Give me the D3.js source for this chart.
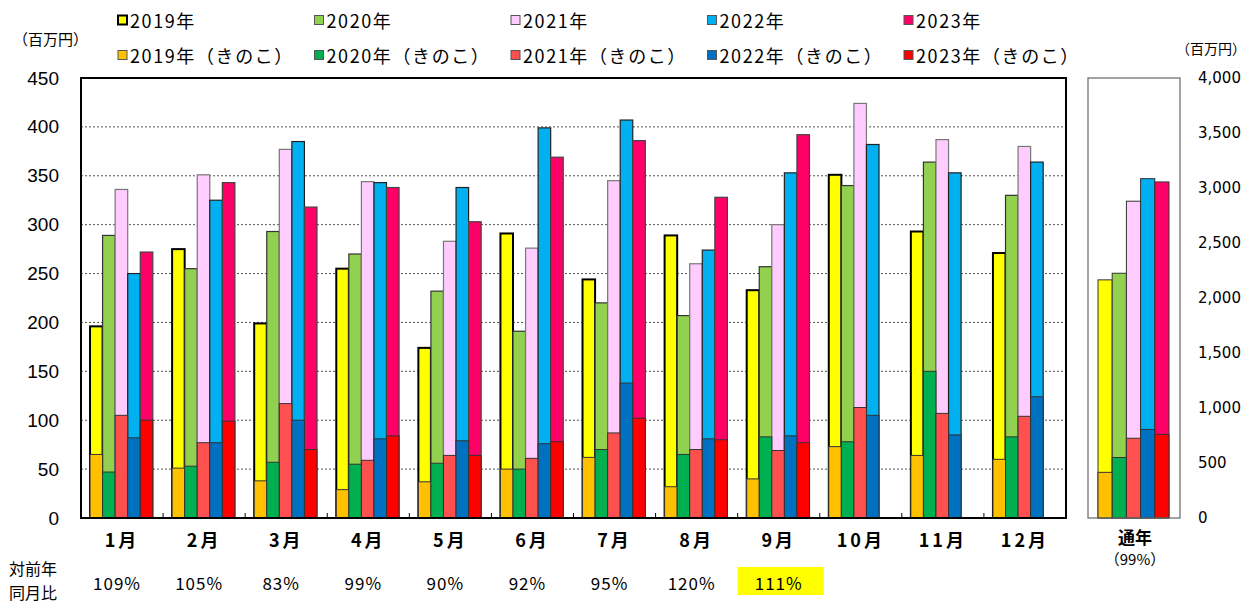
<!DOCTYPE html>
<html>
<head>
<meta charset="utf-8">
<script src="https://cdn.jsdelivr.net/npm/d3@7/dist/d3.min.js"></script>
<style>
  html, body { margin: 0; padding: 0; background: #fff; }
  svg { display: block; }
  text { fill: #000; }
</style>
</head>
<body>
<svg id="chart" width="1252" height="604"></svg>
<script>
// 月別 販売額(百万円)
const months = ["1月","2月","3月","4月","5月","6月","7月","8月","9月","10月","11月","12月"];
const years = ["2019","2020","2021","2022","2023"];

// 全体
const total2019 = [196, 275, 199, 255, 174, 291, 244, 289, 233, 351, 293, 271];
const total2020 = [289, 255, 293, 270, 232, 191, 220, 207, 257, 340, 364, 330];
const total2021 = [336, 351, 377, 344, 283, 276, 345, 260, 300, 424, 387, 380];
const total2022 = [250, 325, 385, 343, 338, 399, 407, 274, 353, 382, 353, 364];
const total2023 = [272, 343, 318, 338, 303, 369, 386, 328, 392, null, null, null];

// うち きのこ
const kinoko2019 = [65, 51, 38, 29, 37, 50, 62, 32, 40, 73, 64, 60];
const kinoko2020 = [47, 53, 57, 55, 56, 50, 70, 65, 83, 78, 150, 83];
const kinoko2021 = [105, 77, 117, 59, 64, 61, 87, 70, 69, 113, 107, 104];
const kinoko2022 = [82, 77, 100, 81, 79, 76, 138, 81, 84, 105, 85, 124];
const kinoko2023 = [100, 99, 70, 84, 64, 78, 102, 80, 77, null, null, null];

// 通年(1〜9月累計)
const annualTotal = [2165, 2225, 2880, 3085, 3055];
const annualKinoko = [415, 550, 725, 805, 760];
const annualRatio = "99%";

// 対前年同月比
const yoyRatio = ["109%","105%","83%","99%","90%","92%","95%","120%","111%"];
const highlightMonth = "9月";

const leftTicks = [0, 50, 100, 150, 200, 250, 300, 350, 400, 450];
const rightTicks = [0, 500, 1000, 1500, 2000, 2500, 3000, 3500, 4000];

const totals = [total2019, total2020, total2021, total2022, total2023];
const kinokos = [kinoko2019, kinoko2020, kinoko2021, kinoko2022, kinoko2023];

const totalColor = ["#FFFF00", "#92D050", "#FFCCFF", "#00B0F0", "#FF0066"];
const kinokoColor = ["#FFC000", "#00B050", "#FF5050", "#0070C0", "#FF0000"];
const totalStroke = ["#000", "#333", "#777", "#222", "#444"];

const jp = "'Noto Sans CJK JP', 'Noto Sans', sans-serif";

const svg = d3.select("#chart");

// ---- main plot ----
const plot = { left: 81, right: 1066, top: 78, bottom: 518 };
const x = d3.scaleBand().domain(months).range([plot.left, plot.right]);
const xs = d3.scaleBand().domain(years).range([x.bandwidth() * 0.11, x.bandwidth() * 0.875]);
const y = d3.scaleLinear().domain([0, 450]).range([plot.bottom, plot.top]);

// grid
svg.append("g")
  .selectAll("line")
  .data(leftTicks.filter(t => t > 0 && t < 450))
  .join("line")
  .attr("x1", plot.left).attr("x2", plot.right)
  .attr("y1", d => y(d)).attr("y2", d => y(d))
  .attr("stroke", "#555").attr("stroke-width", 1)
  .attr("stroke-dasharray", "2,2");

// bars
const rows = [];
months.forEach((m, i) => {
  years.forEach((yr, j) => {
    rows.push({ m, yr, j, total: totals[j][i], kin: kinokos[j][i] });
  });
});
const valid = rows.filter(r => r.total != null);

const barG = svg.append("g");
barG.selectAll("rect.total")
  .data(valid)
  .join("rect")
  .attr("class", "total")
  .attr("x", d => x(d.m) + xs(d.yr))
  .attr("width", xs.bandwidth())
  .attr("y", d => y(d.total))
  .attr("height", d => y(0) - y(d.total))
  .attr("fill", d => totalColor[d.j])
  .attr("stroke", d => totalStroke[d.j])
  .attr("stroke-width", d => d.j === 0 ? 2 : 1.2);

barG.selectAll("rect.kin")
  .data(valid)
  .join("rect")
  .attr("class", "kin")
  .attr("x", d => x(d.m) + xs(d.yr))
  .attr("width", xs.bandwidth())
  .attr("y", d => y(d.kin))
  .attr("height", d => y(0) - y(d.kin))
  .attr("fill", d => kinokoColor[d.j])
  .attr("stroke", "#333")
  .attr("stroke-width", 1);

// frame
svg.append("rect")
  .attr("x", plot.left).attr("y", plot.top)
  .attr("width", plot.right - plot.left).attr("height", plot.bottom - plot.top)
  .attr("fill", "none").attr("stroke", "#000").attr("stroke-width", 2);

// category ticks between months
svg.append("g")
  .selectAll("line")
  .data(months.slice(1))
  .join("line")
  .attr("x1", d => x(d)).attr("x2", d => x(d))
  .attr("y1", plot.bottom).attr("y2", plot.bottom - 5)
  .attr("stroke", "#000").attr("stroke-width", 1);

// left axis
const yAxis = d3.axisLeft(y).tickValues(leftTicks).tickSize(0).tickPadding(22);
const yAxG = svg.append("g").attr("transform", `translate(${plot.left},0)`).call(yAxis);
yAxG.select(".domain").remove();
yAxG.selectAll("text")
  .attr("font-family", "'Liberation Sans', Arial, sans-serif")
  .attr("font-size", 19).attr("fill", "#000");

svg.append("text")
  .attr("x", 13).attr("y", 38).attr("dominant-baseline", "central")
  .attr("font-family", jp).attr("font-size", 15).attr("fill", "#333")
  .text("（百万円）");

// month labels
const xAxis = d3.axisBottom(x).tickSize(0).tickPadding(16);
const xAxG = svg.append("g").attr("transform", `translate(0,${plot.bottom})`).call(xAxis);
xAxG.select(".domain").remove();
xAxG.selectAll("text")
  .attr("font-family", jp).attr("font-size", 18).attr("font-weight", "bold")
  .attr("letter-spacing", 3)
  .attr("fill", "#000");

// ---- annual panel ----
const panel = { left: 1088, right: 1180 };
const yr = d3.scaleLinear().domain([0, 4000]).range([plot.bottom, plot.top]);
const xa = d3.scaleBand().domain(years).range([panel.left + 10, panel.left + 81]);

const annual = years.map((yy, j) => ({ yr: yy, j, total: annualTotal[j], kin: annualKinoko[j] }));
const annG = svg.append("g");
annG.selectAll("rect.total")
  .data(annual)
  .join("rect")
  .attr("x", d => xa(d.yr)).attr("width", xa.bandwidth())
  .attr("y", d => yr(d.total)).attr("height", d => yr(0) - yr(d.total))
  .attr("fill", d => totalColor[d.j])
  .attr("stroke", "#333").attr("stroke-width", 1);
annG.selectAll("rect.kin")
  .data(annual)
  .join("rect")
  .attr("x", d => xa(d.yr)).attr("width", xa.bandwidth())
  .attr("y", d => yr(d.kin)).attr("height", d => yr(0) - yr(d.kin))
  .attr("fill", d => kinokoColor[d.j])
  .attr("stroke", "#333").attr("stroke-width", 1);

svg.append("rect")
  .attr("x", panel.left).attr("y", plot.top)
  .attr("width", panel.right - panel.left).attr("height", plot.bottom - plot.top)
  .attr("fill", "none").attr("stroke", "#666").attr("stroke-width", 1.2);

// right axis
const rAxis = d3.axisRight(yr).tickValues(rightTicks).tickSize(0).tickPadding(0)
  .tickFormat(d3.format(","));
const rAxG = svg.append("g").attr("transform", "translate(1198,0)").call(rAxis);
rAxG.select(".domain").remove();
rAxG.selectAll("text")
  .attr("font-family", "'DejaVu Sans', Verdana, sans-serif")
  .attr("font-size", 15).attr("fill", "#000");

svg.append("text")
  .attr("x", 1246).attr("y", 48).attr("dominant-baseline", "central").attr("text-anchor", "end")
  .attr("font-family", jp).attr("font-size", 14).attr("fill", "#333")
  .text("（百万円）");

const pc = (panel.left + panel.right) / 2;
svg.append("text")
  .attr("x", pc + 1).attr("y", 536).attr("text-anchor", "middle").attr("dominant-baseline", "central")
  .attr("font-family", jp).attr("font-size", 17).attr("font-weight", "bold").attr("fill", "#222")
  .text("通年");
svg.append("text")
  .attr("x", pc + 1).attr("y", 558).attr("text-anchor", "middle").attr("dominant-baseline", "central")
  .attr("font-family", jp).attr("font-size", 15).attr("fill", "#333")
  .text("（" + annualRatio + "）");

// ---- legend ----
const legendItems = [];
years.forEach((yy, j) => {
  legendItems.push({ label: yy + "年", color: totalColor[j], row: 0, col: j, stroke: j === 0 ? "#000" : "#555", sw: j === 0 ? 2 : 1 });
  legendItems.push({ label: yy + "年（きのこ）", color: kinokoColor[j], row: 1, col: j, stroke: "#555", sw: 1 });
});
const legX = d3.scalePoint().domain(d3.range(5)).range([118, 904]);
const legY = [20, 55];
const lg = svg.append("g").selectAll("g").data(legendItems).join("g")
  .attr("transform", d => `translate(${legX(d.col)},${legY[d.row]})`);
lg.append("rect")
  .attr("x", 0).attr("y", -4.5).attr("width", 9).attr("height", 9)
  .attr("fill", d => d.color).attr("stroke", d => d.stroke).attr("stroke-width", d => d.sw);
lg.append("text")
  .attr("x", 12).attr("y", 0).attr("dominant-baseline", "central")
  .attr("font-family", jp).attr("font-size", 18).attr("letter-spacing", 1.6).attr("fill", "#000")
  .text(d => d.label);

// ---- year-over-year ratio ----
const hx = x(highlightMonth);
svg.append("rect")
  .attr("x", hx).attr("y", 567).attr("width", x.bandwidth() + 4).attr("height", 28)
  .attr("fill", "#FFFF00");
svg.append("g").selectAll("text")
  .data(yoyRatio)
  .join("text")
  .attr("x", (d, i) => x(months[i]) + x.bandwidth() / 2 - (months[i] === highlightMonth ? 0 : 5))
  .attr("y", 582).attr("text-anchor", "middle").attr("dominant-baseline", "central")
  .attr("font-family", jp).attr("font-size", 17).attr("letter-spacing", 1).attr("fill", "#111")
  .text(d => d);

svg.append("text")
  .attr("x", 9).attr("y", 568).attr("dominant-baseline", "central")
  .attr("font-family", jp).attr("font-size", 16).attr("fill", "#333")
  .text("対前年");
svg.append("text")
  .attr("x", 9).attr("y", 592).attr("dominant-baseline", "central")
  .attr("font-family", jp).attr("font-size", 16).attr("fill", "#333")
  .text("同月比");
</script>
</body>
</html>
